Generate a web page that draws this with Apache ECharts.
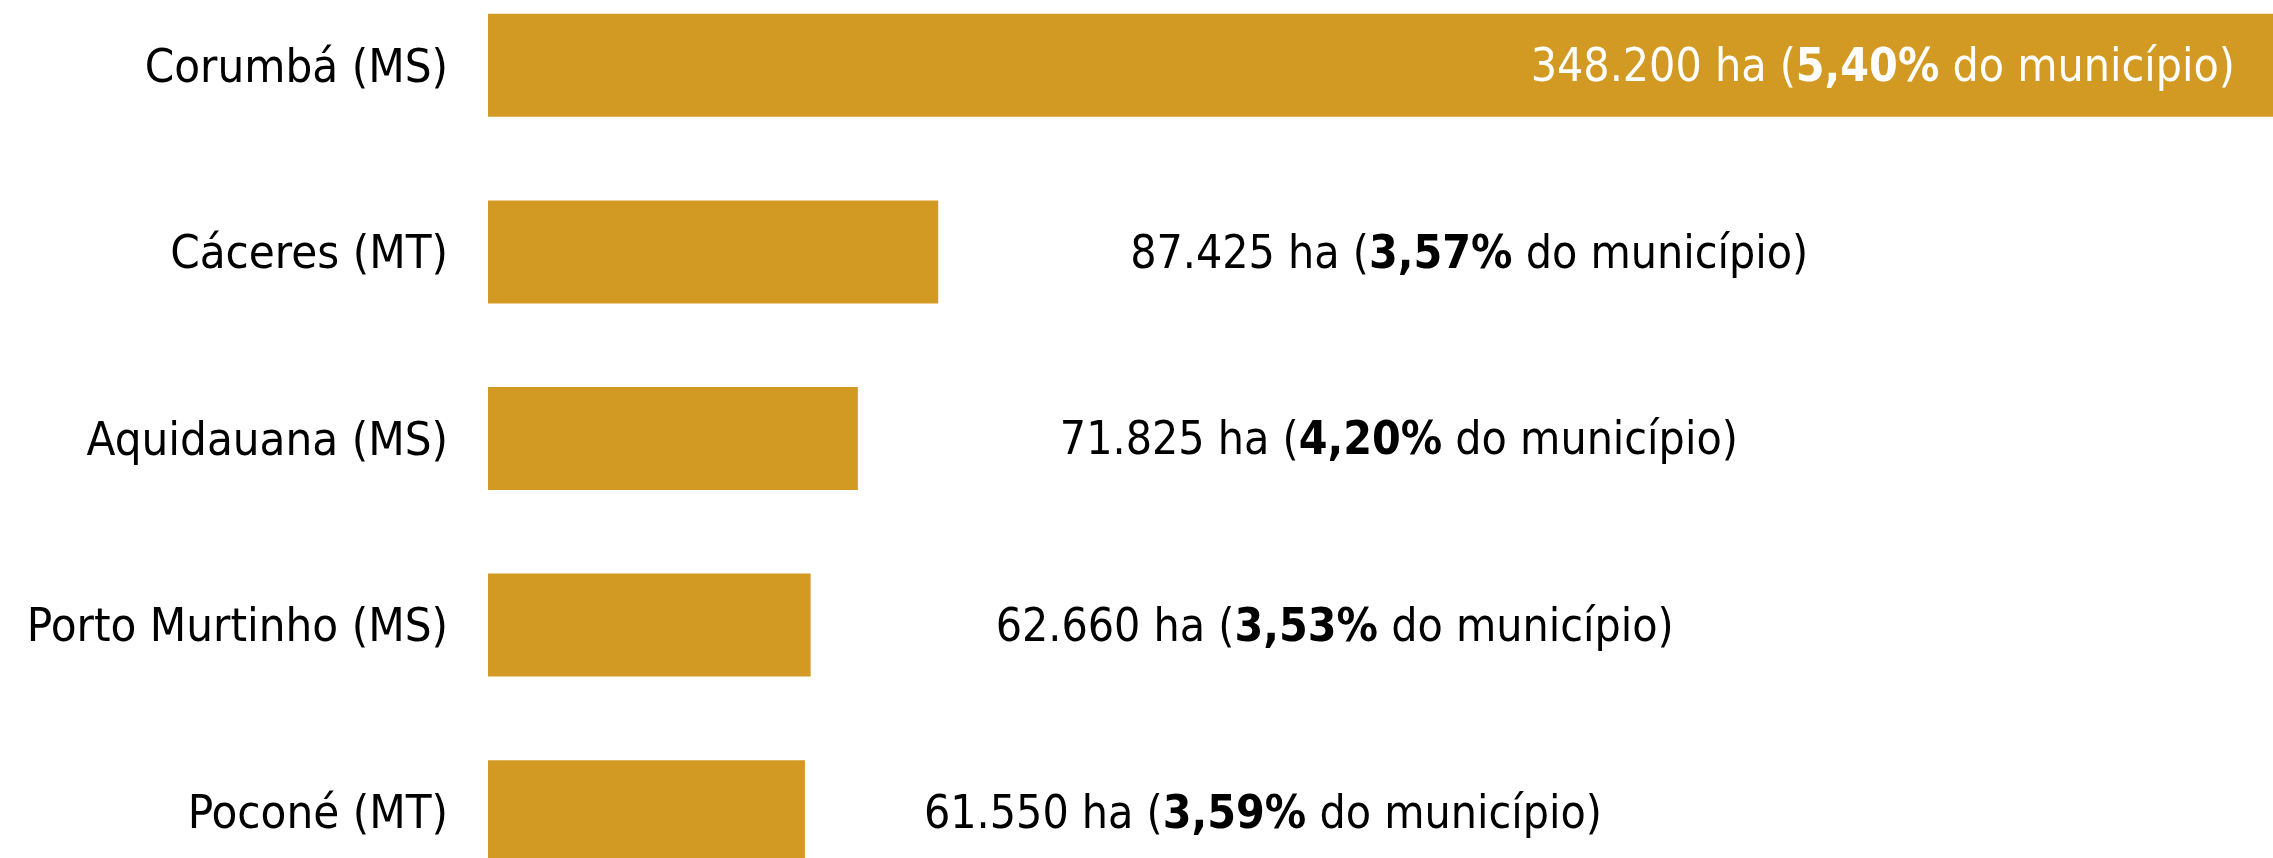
<!DOCTYPE html>
<html>
<head>
<meta charset="utf-8">
<script src="https://cdn.jsdelivr.net/npm/echarts@6/dist/echarts.min.js"></script>
<style>
  html, body { margin: 0; padding: 0; background: #fff; }
  #main { width: 2273px; height: 858px; }
</style>
</head>
<body>
<div id="main"></div>
<script>
// dados
const municipios = ['Corumbá (MS)', 'Cáceres (MT)', 'Aquidauana (MS)', 'Porto Murtinho (MS)', 'Poconé (MT)'];
const areaHa = [348200, 87425, 71825, 62660, 61550];
const pctMunicipio = [5.40, 3.57, 4.20, 3.53, 3.59];

// estilo
const FONT = "'DejaVu Sans Condensed', 'Liberation Sans Narrow', sans-serif";
const AXIS_FONT_SIZE = 47;
const LABEL_FONT_SIZE = 46;
const BAR_COLOR = '#D29A22';
const labelGap = [46, 192, 202, 185, 119];

const fmtHa = v => String(v).replace(/\B(?=(\d{3})+(?!\d))/g, '.');
const fmtPct = v => v.toFixed(2).replace('.', ',') + '%';

const chart = echarts.init(document.getElementById('main'));

const seriesData = areaHa.map((v, i) => {
  const inside = i === 0;
  const color = inside ? '#fff' : '#000';
  return {
    value: v,
    label: {
      position: inside ? 'insideRight' : 'right',
      distance: labelGap[i],
      offset: [0, 4],
      rich: {
        n: { fontFamily: FONT, fontSize: LABEL_FONT_SIZE, color: color },
        b: { fontFamily: FONT, fontSize: LABEL_FONT_SIZE, color: color, fontWeight: 'bold' }
      }
    }
  };
});

chart.setOption({
  animation: false,
  grid: { left: 488, right: -8, top: -28, bottom: -47, containLabel: false, outerBoundsMode: 'none' },
  xAxis: {
    type: 'value',
    min: 0,
    max: 348200,
    show: false
  },
  yAxis: {
    type: 'category',
    inverse: true,
    data: municipios,
    axisLine: { show: false },
    axisTick: { show: false },
    splitLine: { show: false },
    axisLabel: {
      margin: 40,
      formatter: v => '{a|' + v + '}',
      rich: {
        a: {
          color: '#000',
          fontFamily: FONT,
          fontSize: AXIS_FONT_SIZE,
          padding: [8, 0, 0, 0]
        }
      }
    }
  },
  series: [{
    type: 'bar',
    barWidth: 103,
    itemStyle: { color: BAR_COLOR },
    label: {
      show: true,
      formatter: p => {
        const i = p.dataIndex;
        return '{n|' + fmtHa(areaHa[i]) + ' ha (}{b|' + fmtPct(pctMunicipio[i]) + '}{n| do município)}';
      }
    },
    data: seriesData
  }]
});
</script>
</body>
</html>
